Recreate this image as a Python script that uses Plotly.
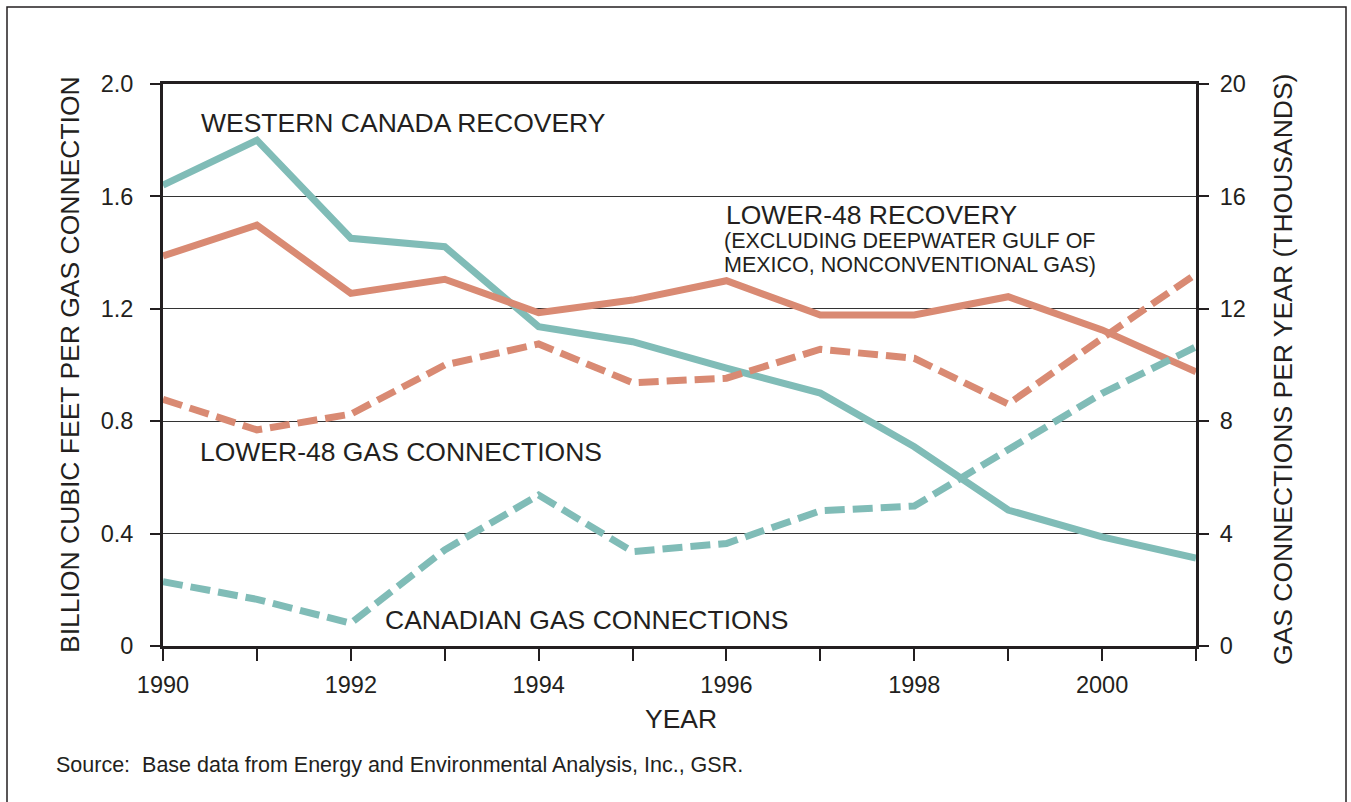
import plotly.graph_objects as go

years = list(range(1990, 2002))
western_canada_recovery = [1.64, 1.80, 1.451, 1.421, 1.136, 1.083, 0.989, 0.90, 0.709, 0.484, 0.388, 0.313]
lower48_recovery = [1.388, 1.498, 1.255, 1.305, 1.186, 1.231, 1.30, 1.178, 1.178, 1.243, 1.125, 0.976]
lower48_connections = [8.78, 7.69, 8.25, 10.0, 10.75, 9.37, 9.53, 10.56, 10.24, 8.61, 10.95, 13.24]  # thousands
canadian_connections = [2.29, 1.66, 0.81, 3.42, 5.37, 3.36, 3.65, 4.81, 4.98, 6.98, 8.99, 10.65]  # thousands

left_ticks = [0, 0.4, 0.8, 1.2, 1.6, 2.0]
left_ticktext = ["0", "0.4", "0.8", "1.2", "1.6", "2.0"]
right_ticks = [0, 4, 8, 12, 16, 20]
x_ticktext = [str(y) if y % 2 == 0 else "" for y in years]

TEAL = "#80bcb7"
SALMON = "#d98a73"
TXT = "#231f20"
FONT = "Liberation Sans, Arial, sans-serif"

W, H = 1351, 802
L, R, T, B = 163, 1196, 84, 646

fig = go.Figure()
fig.add_trace(go.Scatter(x=years, y=western_canada_recovery, mode="lines",
                         line=dict(color=TEAL, width=7), name="Western Canada recovery"))
fig.add_trace(go.Scatter(x=years, y=lower48_recovery, mode="lines",
                         line=dict(color=SALMON, width=7), name="Lower-48 recovery"))
fig.add_trace(go.Scatter(x=years, y=lower48_connections, mode="lines", yaxis="y2",
                         line=dict(color=SALMON, width=7, dash="20px,8px"), name="Lower-48 gas connections"))
fig.add_trace(go.Scatter(x=years, y=canadian_connections, mode="lines", yaxis="y2",
                         line=dict(color=TEAL, width=7, dash="20px,8px"), name="Canadian gas connections"))

def px_x(p):
    return (p - L) / (R - L)

def px_y(p):
    return (B - p) / (B - T)

fig.update_layout(
    width=W, height=H,
    margin=dict(l=L, r=W - R, t=T, b=H - B, pad=0),
    paper_bgcolor="white", plot_bgcolor="white",
    showlegend=False,
    font=dict(family=FONT, color=TXT, size=22),
    xaxis=dict(range=[1990, 2001], tickvals=years, ticktext=x_ticktext,
               ticks="outside", ticklen=12, tickwidth=1.5, tickcolor=TXT,
               ticklabelstandoff=4,
               showline=True, linecolor=TXT, linewidth=3, mirror=True,
               showgrid=False, zeroline=False,
               tickfont=dict(size=23.5, color=TXT, family=FONT)),
    yaxis=dict(range=[0, 2.0], tickvals=left_ticks, ticktext=left_ticktext,
               ticks="outside", ticklen=10, tickwidth=1.5, tickcolor=TXT,
               ticklabelstandoff=12,
               showline=True, linecolor=TXT, linewidth=3,
               showgrid=True, gridcolor="#333333", gridwidth=1.3, zeroline=False,
               tickfont=dict(size=23.5, color=TXT, family=FONT)),
    yaxis2=dict(range=[0, 20], tickvals=right_ticks, overlaying="y", side="right",
                ticks="outside", ticklen=10, tickwidth=1.5, tickcolor=TXT,
                ticklabelstandoff=6,
                showline=True, linecolor=TXT, linewidth=3,
                showgrid=False, zeroline=False,
                tickfont=dict(size=23.5, color=TXT, family=FONT)),
)

ann = []
def add_text(text, x, y, size=26.5, xanchor="left", yanchor="middle", angle=0):
    ann.append(dict(text=text, x=px_x(x), y=px_y(y), xref="paper", yref="paper",
                    showarrow=False, xanchor=xanchor, yanchor=yanchor, textangle=angle,
                    font=dict(size=size, color=TXT, family=FONT)))

add_text("WESTERN CANADA RECOVERY", 199, 123)
add_text("LOWER-48 RECOVERY", 724, 215)
add_text("(EXCLUDING DEEPWATER GULF OF", 722, 241, size=21.5)
add_text("MEXICO, NONCONVENTIONAL GAS)", 722, 265, size=21.5)
add_text("LOWER-48 GAS CONNECTIONS", 198, 452)
add_text("CANADIAN GAS CONNECTIONS", 383, 620)
add_text("YEAR", 681, 719, xanchor="center")
add_text("BILLION CUBIC FEET PER GAS CONNECTION", 70, 365, xanchor="center", angle=-90)
add_text("GAS CONNECTIONS PER YEAR (THOUSANDS)", 1283, 370, xanchor="center", angle=-90)
add_text("Source:  Base data from Energy and Environmental Analysis, Inc., GSR.", 54, 765, size=21.5)
fig.update_layout(annotations=ann)

fig.add_shape(type="rect", xref="paper", yref="paper",
              x0=px_x(7), x1=px_x(1346), y0=px_y(830), y1=px_y(7),
              line=dict(color=TXT, width=1.5), fillcolor="rgba(0,0,0,0)", layer="below")

fig.write_html("out.html", config={"displayModeBar": False},
               post_script="document.body.style.margin='0';document.body.style.padding='0';")
